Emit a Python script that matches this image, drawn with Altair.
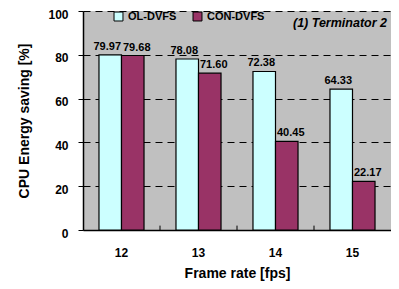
import altair as alt
import pandas as pd

frame_rates = ["12", "13", "14", "15"]
ol_dvfs = [79.97, 78.08, 72.38, 64.33]
con_dvfs = [79.68, 71.60, 40.45, 22.17]
series = ["OL-DVFS", "CON-DVFS"]
colors = ["#CCFFFF", "#993366"]
y_ticks = [0, 20, 40, 60, 80, 100]

rows = []
for i, fr in enumerate(frame_rates):
    rows.append({"fr": fr, "series": series[0], "value": ol_dvfs[i]})
    rows.append({"fr": fr, "series": series[1], "value": con_dvfs[i]})
df = pd.DataFrame(rows)

font = "Liberation Sans"

x = alt.X("fr:N", sort=frame_rates,
          scale=alt.Scale(paddingInner=0, paddingOuter=0),
          axis=alt.Axis(title="Frame rate [fps]", labelAngle=0, ticks=False,
                        labelFont=font, labelFontWeight="bold", labelFontSize=12,
                        labelPadding=17, titleFont=font, titleFontWeight="bold",
                        titleFontSize=14, titlePadding=8, domainColor="black",
                        domainWidth=1.5, labelColor="black", titleColor="black"))
xoff = alt.XOffset("series:N", sort=series,
                   scale=alt.Scale(paddingInner=0, paddingOuter=0.71))
y = alt.Y("value:Q", scale=alt.Scale(domain=[0, 100], nice=False),
          axis=alt.Axis(title="CPU Energy saving [%]", values=y_ticks,
                        labelFont=font, labelFontWeight="bold", labelFontSize=12,
                        labelPadding=10, labelOffset=3, tickSize=5, tickColor="black",
                        titleFont=font, titleFontWeight="bold", titleFontSize=14,
                        titlePadding=16, grid=True, gridColor="black",
                        gridDash=[7, 5], gridWidth=1, domainColor="black",
                        domainWidth=1.5, labelColor="black", titleColor="black"))

bars = alt.Chart(df).mark_bar(stroke="black", strokeWidth=1.2).encode(
    x=x, xOffset=xoff, y=y,
    color=alt.Color("series:N", sort=series,
                    scale=alt.Scale(domain=series, range=colors),
                    legend=alt.Legend(title=None, orient="none", direction="horizontal",
                                      legendX=30, legendY=0, symbolType="square",
                                      symbolSize=80, symbolStrokeColor="black",
                                      symbolStrokeWidth=1, labelFont=font,
                                      labelFontWeight="bold", labelFontSize=11,
                                      labelColor="black", columnPadding=14,
                                      symbolOpacity=1)),
)

text_style = dict(dy=-8, font=font, fontWeight="bold", fontSize=11, color="black")
labels_ol = alt.Chart(df).transform_filter(
    alt.datum.series == series[0]).mark_text(dx=-3, **text_style).encode(
    x=x, xOffset=xoff, y="value:Q", text=alt.Text("value:Q", format=".2f"))
labels_con = alt.Chart(df).transform_filter(
    alt.datum.series == series[1]).mark_text(dx=4, **text_style).encode(
    x=x, xOffset=xoff, y="value:Q", text=alt.Text("value:Q", format=".2f"))

bounds = pd.DataFrame({"fr": frame_rates[1:], "y0": [0] * 3, "y1": [2] * 3})
ticks = alt.Chart(bounds).mark_rule(color="black", strokeWidth=1).encode(
    x=alt.X("fr:N", sort=frame_rates, bandPosition=0), y="y0:Q", y2="y1:Q")

chart = alt.layer(bars, labels_ol, labels_con, ticks).properties(
    width=308, height=219,
    title=alt.TitleParams("(1) Terminator 2", anchor="end", font=font,
                          fontStyle="italic", fontWeight="bold", fontSize=12.5,
                          color="black", dy=25, dx=-4),
    autosize=alt.AutoSizeParams(type="none"),
    padding={"left": 75, "top": 3, "right": 0, "bottom": 58},
).configure(background="white", view=alt.ViewConfig(fill="#C0C0C0", stroke=None))

chart.save("out.html", embed_options={"renderer": "svg", "actions": False})
